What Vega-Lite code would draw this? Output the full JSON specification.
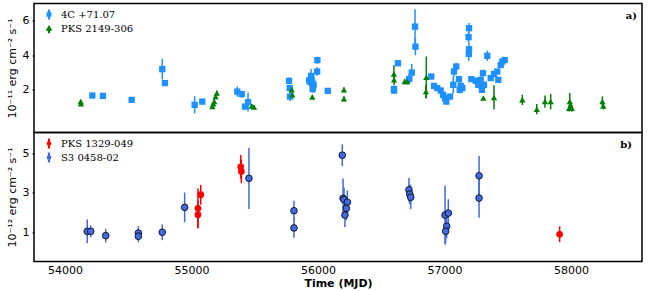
{
  "$schema": "https://vega.github.io/schema/vega-lite/v6.json",
  "autosize": {"type": "pad"},
  "padding": {"left": 5, "top": 2.5, "right": 4, "bottom": 2},
  "background": "white",
  "spacing": 0,
  "bounds": "flush",
  "resolve": {"scale": {"color": "independent"}, "legend": {"color": "independent"}},
  "config": {
    "view": {"stroke": "black", "strokeWidth": 1.5},
    "axis": {
      "labelFont": "DejaVu Sans", "labelFontSize": 11, "labelColor": "black",
      "titleFont": "DejaVu Sans", "titleFontSize": 11, "titleFontWeight": "normal", "titleColor": "black",
      "domain": false, "grid": false, "tickColor": "black", "tickSize": 2, "tickWidth": 1
    },
    "legend": {
      "labelFont": "DejaVu Serif", "labelFontSize": 10, "labelColor": "black",
      "symbolSize": 110, "labelOffset": 6, "rowPadding": -2, "padding": 0
    }
  },
  "datasets": {
    "top": [
      {"source": "4C +71.07", "mjd": 54216, "flux": 1.67, "err": 0.1},
      {"source": "4C +71.07", "mjd": 54300, "flux": 1.65, "err": 0.15},
      {"source": "4C +71.07", "mjd": 54527, "flux": 1.42, "err": 0.08},
      {"source": "4C +71.07", "mjd": 54769, "flux": 3.2, "err": 0.6},
      {"source": "4C +71.07", "mjd": 54790, "flux": 2.39, "err": 0.12},
      {"source": "4C +71.07", "mjd": 55025, "flux": 1.13, "err": 0.5},
      {"source": "4C +71.07", "mjd": 55085, "flux": 1.32, "err": 0.1},
      {"source": "4C +71.07", "mjd": 55362, "flux": 1.9, "err": 0.3},
      {"source": "4C +71.07", "mjd": 55397, "flux": 1.75, "err": 0.2},
      {"source": "4C +71.07", "mjd": 55423, "flux": 1.03, "err": 0.1},
      {"source": "4C +71.07", "mjd": 55447, "flux": 1.29, "err": 0.55},
      {"source": "4C +71.07", "mjd": 55771, "flux": 2.52, "err": 0.2},
      {"source": "4C +71.07", "mjd": 55776, "flux": 2.1, "err": 0.2},
      {"source": "4C +71.07", "mjd": 55779, "flux": 1.61, "err": 0.25},
      {"source": "4C +71.07", "mjd": 55930, "flux": 2.55, "err": 0.2},
      {"source": "4C +71.07", "mjd": 55945, "flux": 2.81, "err": 0.4},
      {"source": "4C +71.07", "mjd": 55950, "flux": 2.58, "err": 0.3},
      {"source": "4C +71.07", "mjd": 55955, "flux": 2.4, "err": 0.3},
      {"source": "4C +71.07", "mjd": 55960, "flux": 2.19, "err": 0.3},
      {"source": "4C +71.07", "mjd": 55965, "flux": 2.3, "err": 0.2},
      {"source": "4C +71.07", "mjd": 55958, "flux": 2.04, "err": 0.2},
      {"source": "4C +71.07", "mjd": 55940, "flux": 2.45, "err": 0.2},
      {"source": "4C +71.07", "mjd": 55995, "flux": 3.72, "err": 0.2},
      {"source": "4C +71.07", "mjd": 55993, "flux": 3.06, "err": 0.25},
      {"source": "4C +71.07", "mjd": 56077, "flux": 1.94, "err": 0.15},
      {"source": "4C +71.07", "mjd": 56601, "flux": 1.96, "err": 0.2},
      {"source": "4C +71.07", "mjd": 56600, "flux": 2.05, "err": 0.2},
      {"source": "4C +71.07", "mjd": 56632, "flux": 3.54, "err": 0.15},
      {"source": "4C +71.07", "mjd": 56719, "flux": 2.62, "err": 0.3},
      {"source": "4C +71.07", "mjd": 56741, "flux": 3.0, "err": 0.5},
      {"source": "4C +71.07", "mjd": 56767, "flux": 5.66, "err": 1.0},
      {"source": "4C +71.07", "mjd": 56770, "flux": 4.5, "err": 0.5},
      {"source": "4C +71.07", "mjd": 56895, "flux": 2.77, "err": 0.15},
      {"source": "4C +71.07", "mjd": 56917, "flux": 2.23, "err": 0.1},
      {"source": "4C +71.07", "mjd": 56943, "flux": 2.1, "err": 0.1},
      {"source": "4C +71.07", "mjd": 56970, "flux": 1.96, "err": 0.1},
      {"source": "4C +71.07", "mjd": 56988, "flux": 1.71, "err": 0.15},
      {"source": "4C +71.07", "mjd": 57004, "flux": 1.52, "err": 0.1},
      {"source": "4C +71.07", "mjd": 57014, "flux": 1.32, "err": 0.1},
      {"source": "4C +71.07", "mjd": 57043, "flux": 1.61, "err": 0.1},
      {"source": "4C +71.07", "mjd": 57069, "flux": 2.29, "err": 0.5},
      {"source": "4C +71.07", "mjd": 57075, "flux": 3.06, "err": 0.3},
      {"source": "4C +71.07", "mjd": 57093, "flux": 3.35, "err": 0.2},
      {"source": "4C +71.07", "mjd": 57114, "flux": 2.62, "err": 0.2},
      {"source": "4C +71.07", "mjd": 57128, "flux": 2.23, "err": 0.2},
      {"source": "4C +71.07", "mjd": 57141, "flux": 2.1, "err": 0.15},
      {"source": "4C +71.07", "mjd": 57120, "flux": 2.0, "err": 0.2},
      {"source": "4C +71.07", "mjd": 57194, "flux": 5.57, "err": 0.3},
      {"source": "4C +71.07", "mjd": 57190, "flux": 5.05, "err": 0.3},
      {"source": "4C +71.07", "mjd": 57194, "flux": 4.35, "err": 0.4},
      {"source": "4C +71.07", "mjd": 57192, "flux": 4.08, "err": 0.4},
      {"source": "4C +71.07", "mjd": 57212, "flux": 2.62, "err": 0.1},
      {"source": "4C +71.07", "mjd": 57247, "flux": 2.52, "err": 0.2},
      {"source": "4C +71.07", "mjd": 57267, "flux": 2.29, "err": 0.2},
      {"source": "4C +71.07", "mjd": 57286, "flux": 2.58, "err": 0.2},
      {"source": "4C +71.07", "mjd": 57304, "flux": 2.97, "err": 0.2},
      {"source": "4C +71.07", "mjd": 57312, "flux": 2.29, "err": 0.2},
      {"source": "4C +71.07", "mjd": 57296, "flux": 2.0, "err": 0.15},
      {"source": "4C +71.07", "mjd": 57338, "flux": 3.97, "err": 0.3},
      {"source": "4C +71.07", "mjd": 57365, "flux": 2.68, "err": 0.1},
      {"source": "4C +71.07", "mjd": 57391, "flux": 2.92, "err": 0.15},
      {"source": "4C +71.07", "mjd": 57417, "flux": 3.06, "err": 0.1},
      {"source": "4C +71.07", "mjd": 57425, "flux": 2.58, "err": 0.15},
      {"source": "4C +71.07", "mjd": 57444, "flux": 3.44, "err": 0.1},
      {"source": "4C +71.07", "mjd": 57457, "flux": 3.64, "err": 0.1},
      {"source": "4C +71.07", "mjd": 57476, "flux": 3.73, "err": 0.1},
      {"source": "PKS 2149-306", "mjd": 54124, "flux": 1.32, "err": 0.1},
      {"source": "PKS 2149-306", "mjd": 54126, "flux": 1.19, "err": 0.1},
      {"source": "PKS 2149-306", "mjd": 55165, "flux": 1.03, "err": 0.1},
      {"source": "PKS 2149-306", "mjd": 55172, "flux": 1.19, "err": 0.1},
      {"source": "PKS 2149-306", "mjd": 55180, "flux": 1.32, "err": 0.15},
      {"source": "PKS 2149-306", "mjd": 55190, "flux": 1.61, "err": 0.15},
      {"source": "PKS 2149-306", "mjd": 55200, "flux": 1.81, "err": 0.15},
      {"source": "PKS 2149-306", "mjd": 55476, "flux": 1.07, "err": 0.1},
      {"source": "PKS 2149-306", "mjd": 55494, "flux": 1.0, "err": 0.1},
      {"source": "PKS 2149-306", "mjd": 55792, "flux": 2.0, "err": 0.15},
      {"source": "PKS 2149-306", "mjd": 55797, "flux": 1.71, "err": 0.15},
      {"source": "PKS 2149-306", "mjd": 55955, "flux": 1.58, "err": 0.1},
      {"source": "PKS 2149-306", "mjd": 56205, "flux": 2.0, "err": 0.15},
      {"source": "PKS 2149-306", "mjd": 56205, "flux": 1.48, "err": 0.15},
      {"source": "PKS 2149-306", "mjd": 56600, "flux": 2.92, "err": 0.5},
      {"source": "PKS 2149-306", "mjd": 56601, "flux": 2.58, "err": 0.3},
      {"source": "PKS 2149-306", "mjd": 56685, "flux": 2.48, "err": 0.15},
      {"source": "PKS 2149-306", "mjd": 56706, "flux": 2.48, "err": 0.15},
      {"source": "PKS 2149-306", "mjd": 56856, "flux": 2.73, "err": 1.2},
      {"source": "PKS 2149-306", "mjd": 56853, "flux": 1.9, "err": 0.4},
      {"source": "PKS 2149-306", "mjd": 57307, "flux": 1.52, "err": 0.1},
      {"source": "PKS 2149-306", "mjd": 57391, "flux": 1.56, "err": 0.7},
      {"source": "PKS 2149-306", "mjd": 57615, "flux": 1.42, "err": 0.3},
      {"source": "PKS 2149-306", "mjd": 57729, "flux": 0.88, "err": 0.3},
      {"source": "PKS 2149-306", "mjd": 57794, "flux": 1.32, "err": 0.35},
      {"source": "PKS 2149-306", "mjd": 57839, "flux": 1.32, "err": 0.45},
      {"source": "PKS 2149-306", "mjd": 57990, "flux": 1.32, "err": 0.5},
      {"source": "PKS 2149-306", "mjd": 57985, "flux": 0.94, "err": 0.2},
      {"source": "PKS 2149-306", "mjd": 58005, "flux": 0.94, "err": 0.2},
      {"source": "PKS 2149-306", "mjd": 57997, "flux": 1.1, "err": 0.2},
      {"source": "PKS 2149-306", "mjd": 58248, "flux": 1.32, "err": 0.3},
      {"source": "PKS 2149-306", "mjd": 58255, "flux": 1.07, "err": 0.2}
    ],
    "bottom": [
      {"source": "S3 0458-02", "mjd": 54176, "flux": 1.05, "err": 0.6},
      {"source": "S3 0458-02", "mjd": 54203, "flux": 1.05, "err": 0.3},
      {"source": "S3 0458-02", "mjd": 54322, "flux": 0.83, "err": 0.35},
      {"source": "S3 0458-02", "mjd": 54580, "flux": 0.96, "err": 0.35},
      {"source": "S3 0458-02", "mjd": 54580, "flux": 0.8, "err": 0.3},
      {"source": "S3 0458-02", "mjd": 54769, "flux": 1.0, "err": 0.4},
      {"source": "S3 0458-02", "mjd": 54946, "flux": 2.26, "err": 0.75},
      {"source": "S3 0458-02", "mjd": 55454, "flux": 3.73, "err": 1.55},
      {"source": "S3 0458-02", "mjd": 55810, "flux": 2.09, "err": 0.5},
      {"source": "S3 0458-02", "mjd": 55810, "flux": 1.22, "err": 0.5},
      {"source": "S3 0458-02", "mjd": 56192, "flux": 4.9, "err": 0.55},
      {"source": "S3 0458-02", "mjd": 56198, "flux": 2.72, "err": 1.0},
      {"source": "S3 0458-02", "mjd": 56206, "flux": 2.65, "err": 0.6},
      {"source": "S3 0458-02", "mjd": 56232, "flux": 2.52, "err": 0.6},
      {"source": "S3 0458-02", "mjd": 56224, "flux": 2.21, "err": 0.6},
      {"source": "S3 0458-02", "mjd": 56213, "flux": 1.87, "err": 0.6},
      {"source": "S3 0458-02", "mjd": 56719, "flux": 3.15, "err": 0.6},
      {"source": "S3 0458-02", "mjd": 56725, "flux": 2.93, "err": 0.5},
      {"source": "S3 0458-02", "mjd": 56733, "flux": 2.77, "err": 0.6},
      {"source": "S3 0458-02", "mjd": 57004, "flux": 1.87, "err": 1.5},
      {"source": "S3 0458-02", "mjd": 57030, "flux": 1.97, "err": 0.7},
      {"source": "S3 0458-02", "mjd": 57017, "flux": 1.3, "err": 0.6},
      {"source": "S3 0458-02", "mjd": 57009, "flux": 1.05, "err": 0.6},
      {"source": "S3 0458-02", "mjd": 57273, "flux": 3.86, "err": 1.0},
      {"source": "S3 0458-02", "mjd": 57273, "flux": 2.73, "err": 1.0},
      {"source": "PKS 1329-049", "mjd": 55051, "flux": 2.21, "err": 1.0},
      {"source": "PKS 1329-049", "mjd": 55051, "flux": 1.89, "err": 0.7},
      {"source": "PKS 1329-049", "mjd": 55073, "flux": 2.9, "err": 0.5},
      {"source": "PKS 1329-049", "mjd": 55389, "flux": 4.31, "err": 0.6},
      {"source": "PKS 1329-049", "mjd": 55394, "flux": 4.08, "err": 0.6},
      {"source": "PKS 1329-049", "mjd": 57910, "flux": 0.9, "err": 0.4}
    ]
  },
  "vconcat": [
    {
      "width": 608,
      "height": 129,
      "layer": [
        {
          "data": {"name": "top"},
          "mark": {"type": "errorbar", "thickness": 1.5},
          "encoding": {
            "x": {"field": "mjd", "type": "quantitative", "scale": {"domain": [53755, 58561], "nice": false, "zero": false}, "axis": null},
            "y": {"field": "flux", "type": "quantitative", "scale": {"domain": [-0.47, 7.0], "nice": false, "zero": false},
                  "axis": {"values": [2, 4, 6], "title": "10⁻¹¹ erg cm⁻² s⁻¹", "labelPadding": 3, "titlePadding": 5}},
            "yError": {"field": "err"},
            "color": {"field": "source", "type": "nominal", "scale": {"domain": ["4C +71.07", "PKS 2149-306"], "range": ["#1E90FF", "#008000"]},
                      "legend": {"orient": "none", "legendX": 9, "legendY": 5, "title": null,
                                 "encode": {"symbols": {"update": {"shape": {"signal": "datum.value === '4C +71.07' ? 'M-0.33,-0.28H0.33V0.28H-0.33Z M-0.07,-0.8H0.07V0.8H-0.07Z' : 'M0,-0.4L0.4,0.3H-0.4Z M-0.07,0H0.07V0.75H-0.07Z'"}}}}}}
          }
        },
        {
          "data": {"name": "top"},
          "mark": {"type": "point", "filled": true, "size": 40, "opacity": 1},
          "encoding": {
            "x": {"field": "mjd", "type": "quantitative"},
            "y": {"field": "flux", "type": "quantitative", "title": "10⁻¹¹ erg cm⁻² s⁻¹"},
            "color": {"field": "source", "type": "nominal",
                      "legend": {"orient": "none", "legendX": 9, "legendY": 5, "title": null,
                                 "encode": {"symbols": {"update": {"shape": {"signal": "datum.value === '4C +71.07' ? 'M-0.33,-0.28H0.33V0.28H-0.33Z M-0.07,-0.8H0.07V0.8H-0.07Z' : 'M0,-0.4L0.4,0.3H-0.4Z M-0.07,0H0.07V0.75H-0.07Z'"}}}}}},
            "shape": {"condition": {"test": "datum.source === '4C +71.07'", "value": "square"}, "value": "triangle-up"}
          }
        },
        {
          "data": {"values": [{"label": "a)", "mjd": 58522, "flux": 6.28}]},
          "mark": {"type": "text", "align": "right", "baseline": "middle", "font": "DejaVu Serif", "fontWeight": "bold", "fontSize": 10, "fill": "black"},
          "encoding": {
            "x": {"field": "mjd", "type": "quantitative"},
            "y": {"field": "flux", "type": "quantitative"},
            "text": {"field": "label"}
          }
        }
      ]
    },
    {
      "width": 608,
      "height": 129,
      "layer": [
        {
          "data": {"name": "bottom"},
          "mark": {"type": "errorbar", "thickness": 1.5},
          "encoding": {
            "x": {"field": "mjd", "type": "quantitative", "scale": {"domain": [53755, 58561], "nice": false, "zero": false},
                  "axis": {"values": [54000, 55000, 56000, 57000, 58000], "format": "d", "ticks": false, "labelPadding": 3, "title": "Time (MJD)", "titleFontWeight": "bold", "titlePadding": 2}},
            "y": {"field": "flux", "type": "quantitative", "scale": {"domain": [-0.48, 6.05], "nice": false, "zero": false},
                  "axis": {"values": [1, 3, 5], "title": "10⁻¹² erg cm⁻² s⁻¹", "labelPadding": 3, "titlePadding": 5}},
            "yError": {"field": "err"},
            "color": {"field": "source", "type": "nominal", "scale": {"domain": ["PKS 1329-049", "S3 0458-02"], "range": ["#FF0000", "#4169E1"]},
                      "legend": {"orient": "none", "legendX": 9, "legendY": 5, "title": null,
                                 "encode": {"symbols": {"update": {"shape": {"value": "M-0.3,0A0.3,0.3,0,1,1,0.3,0A0.3,0.3,0,1,1,-0.3,0Z M-0.07,-0.8H0.07V0.8H-0.07Z"}}}}}}
          }
        },
        {
          "data": {"name": "bottom"},
          "mark": {"type": "point", "filled": true, "size": 45, "opacity": 1, "stroke": "black"},
          "encoding": {
            "x": {"field": "mjd", "type": "quantitative", "title": "Time (MJD)"},
            "y": {"field": "flux", "type": "quantitative", "title": "10⁻¹² erg cm⁻² s⁻¹"},
            "strokeWidth": {"condition": {"test": "datum.source === 'S3 0458-02'", "value": 0.8}, "value": 0},
            "color": {"field": "source", "type": "nominal",
                      "legend": {"orient": "none", "legendX": 9, "legendY": 5, "title": null,
                                 "encode": {"symbols": {"update": {"shape": {"value": "M-0.3,0A0.3,0.3,0,1,1,0.3,0A0.3,0.3,0,1,1,-0.3,0Z M-0.07,-0.8H0.07V0.8H-0.07Z"}}}}}}
          }
        },
        {
          "data": {"values": [{"label": "b)", "mjd": 58482, "flux": 5.42}]},
          "mark": {"type": "text", "align": "right", "baseline": "middle", "font": "DejaVu Serif", "fontWeight": "bold", "fontSize": 10, "fill": "black"},
          "encoding": {
            "x": {"field": "mjd", "type": "quantitative"},
            "y": {"field": "flux", "type": "quantitative"},
            "text": {"field": "label"}
          }
        }
      ]
    }
  ]
}
